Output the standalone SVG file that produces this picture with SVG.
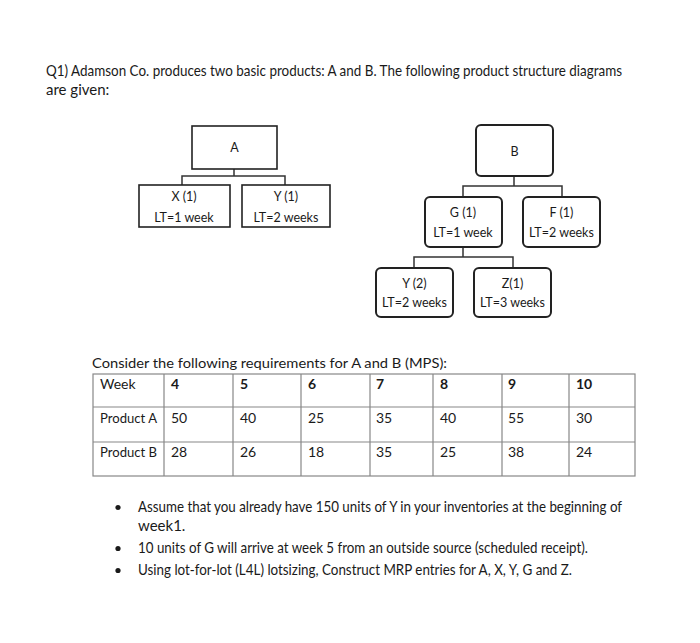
<svg xmlns="http://www.w3.org/2000/svg" width="700" height="643" viewBox="0 0 700 643">
<style>
text{font-family:Lato,"Liberation Sans",sans-serif;fill:#1a1a1a}
.t{font-size:15px}
.n{font-size:12.5px;text-anchor:middle}
.c{font-size:14px}
.b{font-weight:bold}
.sq{fill:#fff;stroke:#222;stroke-width:1.6}
.rd{fill:#fff;stroke:#222;stroke-width:2}
.ln{fill:none;stroke:#333;stroke-width:1.5}
.g{fill:none;stroke:#888;stroke-width:1.2}
</style>
<rect width="700" height="643" fill="#fff"/>
<text class="t" x="46" y="76" textLength="576" lengthAdjust="spacingAndGlyphs">Q1) Adamson Co.  produces two basic products: A and B.  The following product structure diagrams</text>
<text class="t" x="46" y="95">are given:</text>
<g id="connectors">
<path class="ln" d="M234 169V176M182 185V176H285V185"/>
<path class="ln" d="M514 176V186M463 197V186H562V197"/>
<path class="ln" d="M463 247V257M414 268V257H513V268"/>
</g>
<g id="nodeA"><rect class="sq" x="192" y="126" width="85" height="43"/><text class="n" x="234.5" y="152">A</text></g>
<g id="nodeX"><rect class="sq" x="139" y="185" width="91" height="42"/><text class="n" x="184" y="201">X (1)</text><text class="n" x="184" y="222">LT=1 week</text></g>
<g id="nodeY1"><rect class="sq" x="242" y="185" width="88" height="42"/><text class="n" x="286" y="201">Y (1)</text><text class="n" x="286" y="222">LT=2 weeks</text></g>
<g id="nodeB"><rect class="rd" x="476" y="125" width="77" height="51" rx="5"/><text class="n" x="514.5" y="156">B</text></g>
<g id="nodeG"><rect class="rd" x="425" y="197" width="77" height="50" rx="5"/><text class="n" x="463" y="217">G (1)</text><text class="n" x="463" y="237">LT=1 week</text></g>
<g id="nodeF"><rect class="rd" x="523" y="197" width="77" height="50" rx="5"/><text class="n" x="561.5" y="217">F (1)</text><text class="n" x="561.5" y="237">LT=2 weeks</text></g>
<g id="nodeY2"><rect class="rd" x="376" y="268" width="77" height="49" rx="5"/><text class="n" x="414.5" y="288">Y (2)</text><text class="n" x="414.5" y="307">LT=2 weeks</text></g>
<g id="nodeZ"><rect class="rd" x="474" y="268" width="77" height="49" rx="5"/><text class="n" x="512.5" y="288">Z(1)</text><text class="n" x="512.5" y="307">LT=3 weeks</text></g>
<text class="c" x="92" y="368" textLength="355" lengthAdjust="spacingAndGlyphs">Consider the following requirements for A and B  (MPS):</text>
<g id="table">
<rect class="g" x="93" y="374" width="542" height="102"/>
<path class="g" d="M93 407H635M93 442H635M164 374V476M233 374V476M301 374V476M370 374V476M433 374V476M502 374V476M569 374V476"/>
<g class="c">
<text x="100" y="389">Week</text>
<text class="b" x="171" y="389">4</text><text class="b" x="240" y="389">5</text><text class="b" x="308" y="389">6</text><text class="b" x="376" y="389">7</text><text class="b" x="440" y="389">8</text><text class="b" x="508" y="389">9</text><text class="b" x="576" y="389">10</text>
<text x="100" y="423" textLength="57" lengthAdjust="spacingAndGlyphs">Product A</text>
<text x="171" y="423">50</text><text x="240" y="423">40</text><text x="308" y="423">25</text><text x="376" y="423">35</text><text x="440" y="423">40</text><text x="508" y="423">55</text><text x="576" y="423">30</text>
<text x="100" y="457" textLength="57" lengthAdjust="spacingAndGlyphs">Product B</text>
<text x="171" y="457">28</text><text x="240" y="457">26</text><text x="308" y="457">18</text><text x="376" y="457">35</text><text x="440" y="457">25</text><text x="508" y="457">38</text><text x="576" y="457">24</text>
</g>
</g>
<g fill="#1a1a1a"><circle cx="118" cy="507.5" r="2.6"/><circle cx="118" cy="548.5" r="2.6"/><circle cx="118" cy="570.5" r="2.6"/></g>
<text class="t" x="138" y="512" textLength="484" lengthAdjust="spacingAndGlyphs">Assume that you already have 150 units of Y in your inventories at the beginning of</text>
<text class="t" x="138" y="531">week1.</text>
<text class="t" x="138" y="553" textLength="450" lengthAdjust="spacingAndGlyphs">10 units of G will arrive at week 5 from an outside source (scheduled receipt).</text>
<text class="t" x="138" y="575" textLength="434" lengthAdjust="spacingAndGlyphs">Using lot-for-lot (L4L) lotsizing, Construct MRP entries for A, X, Y, G and Z.</text>
</svg>
